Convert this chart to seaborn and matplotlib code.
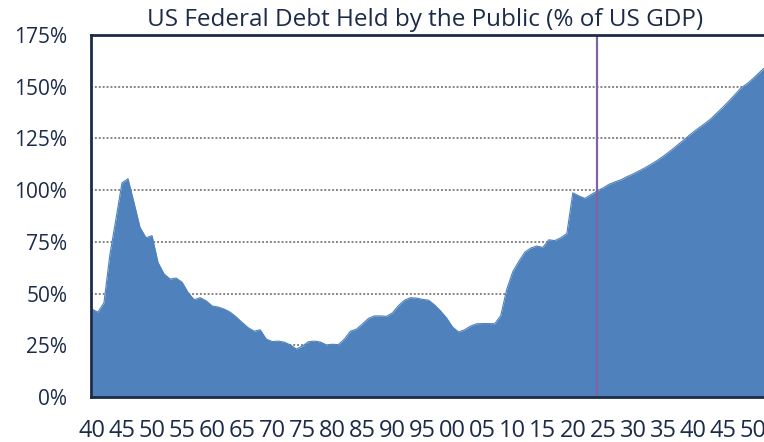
import matplotlib
matplotlib.use("Agg")
import matplotlib.pyplot as plt
import seaborn as sns
import pandas as pd

# ---- data ----
years = list(range(1940, 2053))
hist_values = [
    42.5, 41.0, 45.5, 69.0, 86.0, 103.5, 105.5, 94.0, 82.0, 77.0,   # 1940-1949
    78.0, 65.0, 59.5, 57.0, 57.5, 55.5, 50.5, 47.0, 48.0, 46.5,     # 1950-1959
    44.0, 43.5, 42.5, 41.0, 38.7, 36.0, 33.5, 31.8, 32.5, 28.0,     # 1960-1969
    26.8, 27.0, 26.5, 25.2, 23.2, 24.6, 26.7, 27.0, 26.6, 25.2,     # 1970-1979
    25.5, 25.3, 28.0, 31.8, 32.8, 35.3, 38.0, 39.2, 39.2, 39.0,     # 1980-1989
    40.7, 44.2, 46.8, 48.0, 47.8, 47.2, 46.8, 44.5, 41.6, 38.2,     # 1990-1999
    33.8, 31.4, 32.5, 34.3, 35.4, 35.5, 35.5, 35.4, 39.3, 52.0,     # 2000-2009
    60.5, 65.5, 70.0, 72.0, 73.0, 72.3, 76.0, 75.6, 77.0, 79.0,     # 2010-2019
    98.7, 97.2, 96.0, 97.8, 99.5,                                   # 2020-2024
]
proj_values = [
    101.0, 102.8, 104.0, 105.0, 106.5,                              # 2025-2029
    107.8, 109.3, 110.8, 112.5, 114.3, 116.3, 118.5, 120.8, 123.2, 125.6,  # 2030-2039
    128.0, 130.2, 132.3, 134.6, 137.4, 140.2, 143.2, 146.3, 149.5, 151.5,  # 2040-2049
    154.0, 156.8, 159.5,                                            # 2050-2052
]
values = hist_values + proj_values
last_actual_year = 2024
title = "US Federal Debt Held by the Public (% of US GDP)"
ytick_vals = [0, 25, 50, 75, 100, 125, 150, 175]
ytick_labels = [f"{v}%" for v in ytick_vals]
xtick_years = list(range(1940, 2051, 5))
xtick_labels = [f"{y % 100:02d}" for y in xtick_years]

df = pd.DataFrame({"year": years, "debt": values})

# ---- style ----
sns.set_theme(style="white")
plt.rcParams["font.family"] = ["Open Sans", "DejaVu Sans"]
navy = "#1c2b48"
fill_col = "#4f81bd"

fig = plt.figure(figsize=(7.64, 4.42), dpi=100)
ax = fig.add_axes([91 / 764, 1 - 397 / 442, (764 - 91) / 764, (397 - 35) / 442])

# grid (behind area)
for v in ytick_vals[1:-1]:
    ax.axhline(v, color="#858585", lw=1.4, ls=(0, (1.0, 1.0)), zorder=0)

sns.lineplot(data=df, x="year", y="debt", ax=ax, color=fill_col, lw=0.8, zorder=2)
ax.fill_between(df["year"], 0, df["debt"], color=fill_col, lw=0, zorder=2)

ax.axvline(last_actual_year, color="#8064a2", lw=1.6, zorder=3)

ax.set_xlim(1939.85, 2051.8)
ax.set_ylim(0, 175)
ax.set_yticks(ytick_vals)
ax.set_yticklabels(ytick_labels)
ax.set_xticks(xtick_years)
ax.set_xticklabels(xtick_labels)
ax.tick_params(axis="y", length=0, pad=17, labelsize=15, colors=navy)
ax.tick_params(axis="x", length=0, pad=16, labelsize=17, colors=navy)
ax.set_xlabel("")
ax.set_ylabel("")

for side in ["left", "top", "bottom"]:
    ax.spines[side].set_color(navy)
    ax.spines[side].set_linewidth(2.0)
    ax.spines[side].set_zorder(5)
ax.spines["right"].set_visible(False)

fig.text(425 / 764, 1 - 20 / 442, title, ha="center", va="center",
         fontsize=17.5, color=navy)

fig.savefig("out.png", dpi=100)
